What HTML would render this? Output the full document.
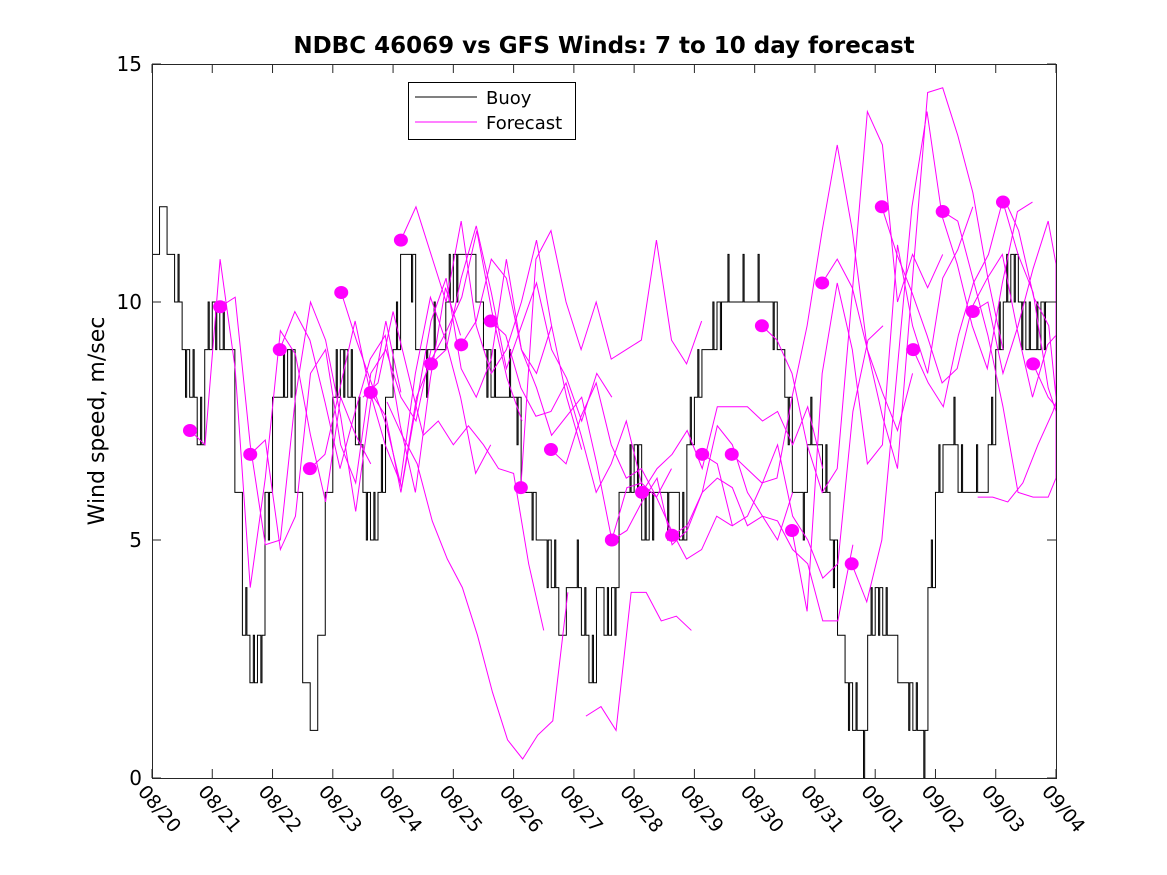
<!DOCTYPE html>
<html><head><meta charset="utf-8">
<style>
html,body{margin:0;padding:0;background:#fff;}
svg{display:block;font-family:"Liberation Sans","DejaVu Sans",sans-serif;}
</style></head>
<body>
<svg id="chart" width="1167" height="875" viewBox="0 0 1167 875" xmlns="http://www.w3.org/2000/svg">
<rect x="0" y="0" width="1167" height="875" fill="#fff"/>
<text x="604" y="53" text-anchor="middle" font-size="23" font-weight="bold" font-family="DejaVu Sans, sans-serif">NDBC 46069 vs GFS Winds: 7 to 10 day forecast</text>
<text transform="translate(104,421) rotate(-90)" text-anchor="middle" font-size="22" font-family="DejaVu Sans, sans-serif">Wind speed, m/sec</text>
<g id="plot"></g>
<g id="axes"></g>
<g>
<rect x="408.5" y="82.5" width="167" height="57" fill="#fff" stroke="#000" stroke-width="1"/>
<line x1="415" y1="97" x2="477" y2="97" stroke="#000" stroke-width="1"/>
<text x="486" y="104" font-size="18" font-family="DejaVu Sans, sans-serif">Buoy</text>
<line x1="415" y1="122" x2="477" y2="122" stroke="#ff00ff" stroke-width="1"/>
<text x="486" y="129" font-size="18" font-family="DejaVu Sans, sans-serif">Forecast</text>
</g>
</svg>
<script>
// ---- data ----
const xTickLabels = ["08/20","08/21","08/22","08/23","08/24","08/25","08/26","08/27","08/28","08/29","08/30","08/31","09/01","09/02","09/03","09/04"];
const yTicks = [0,5,10,15];
// buoy wind, 3-hour samples from 08/20 00:00
const buoy = [
11,12,11,10,9,8,7,9,
10,9,9,6,3,2,3,6,
8,8,9,6,2,1,3,6,
8,9,8,7,6,5,6,8,
9,11,11,9,9,9,9,10,
11,11,11,10,9,8,8,8,
8,6,6,5,5,4,3,4,
4,3,2,4,3,4,6,6,
7,5,6,6,6,6,5,7,
8,9,9,10,10,10,10,10,
10,10,10,9,8,6,6,7,
7,6,5,3,2,1,1,3,
4,3,3,2,2,1,1,4,
6,7,7,6,6,6,6,7,
9,10,11,10,9,9,10,10,10];
// buoy flicker: brief secondary level within each 3-hour sample (same = none)
const buoyFlicker = [
11,12,11,11,8,9,8,10,
9,10,9,6,4,3,2,5,
8,9,8,6,2,1,3,6,
9,8,9,8,5,6,7,8,
10,11,10,9,8,10,9,11,
10,11,11,10,8,9,8,9,
7,6,5,5,4,5,3,4,
5,4,3,4,4,3,6,7,
6,6,5,6,5,6,6,8,
9,9,10,9,11,10,11,10,
11,10,9,9,7,6,5,8,
7,7,4,3,1,2,0,4,
3,4,3,2,1,2,0,5,
7,7,8,7,6,7,6,8,
10,11,10,9,10,10,9,10,9];
// forecast dots (day offset, speed)
const dotDays = [0.63,1.13,1.63,2.12,2.62,3.14,3.63,4.13,4.63,5.13,5.62,6.12,6.62,7.63,8.13,8.63,9.13,9.62,10.12,10.62,11.12,11.61,12.11,12.63,13.12,13.62,14.12,14.62];
const dotVals = [7.3,9.9,6.8,9.0,6.5,10.2,8.1,11.3,8.7,9.1,9.6,6.1,6.9,5.0,6.0,5.1,6.8,6.8,9.5,5.2,10.4,4.5,12.0,9.0,11.9,9.8,12.1,8.7];
// forecast segments: start day, 6-hourly values
const segStarts = [0.63,1.13,1.63,2.12,2.62,3.14,3.63,4.13,4.63,5.13,5.62,6.12,6.62,7.63,8.13,8.63,9.13,9.62,10.12,10.62,11.12,11.61,12.11,12.63,13.12,13.62,14.12,14.62,3.9,3.5,13.7,7.2];
const segVals = [
[7.3,7.0,10.9,8.6,4.0,6.3,9.4,8.9,7.2,5.8,8.0,7.2,6.6],
[9.9,10.1,7.0,4.9,5.0,8.0,10.0,9.2,7.6,5.6,7.9,9.6,8.1],
[6.8,7.1,4.8,5.5,8.5,9.0,7.0,6.2,8.5,9.0,8.0,7.5,9.0],
[9.0,9.8,9.2,7.9,6.5,7.7,8.8,9.3,7.4,6.0,8.4,10.3,9.3],
[6.5,6.8,8.2,9.6,8.1,7.0,6.2,8.5,10.1,9.2,8.0,6.4,7.0],
[10.2,9.2,8.3,7.4,6.1,8.0,8.8,9.4,10.1,11.5,9.8,8.4,7.5],
[8.1,7.6,6.0,7.8,9.6,10.5,8.6,8.0,8.8,10.9,9.0,8.5,9.5],
[11.3,12.0,11.0,10.0,11.7,9.5,8.5,9.0,10.0,11.3,9.5,8.0,6.9],
[8.7,9.0,10.5,11.6,10.2,8.6,9.5,10.4,9.0,8.4,7.5,8.5,8.0],
[9.1,9.6,10.9,10.5,9.0,8.2,7.2,7.6,8.0,6.6,5.0,6.1,6.2],
[9.6,9.3,8.2,7.6,7.7,8.3,7.2,6.0,6.6,7.5,6.2,5.9,6.5],
[6.1,10.9,11.5,10.0,9.0,10.0,8.8,9.0,9.2,11.3,9.2,8.7,9.6],
[6.9,6.6,7.6,8.3,7.0,6.3,6.5,5.9,5.2,4.6,4.8,5.5,5.3],
[5.0,5.2,5.8,6.3,4.9,5.2,6.0,6.3,6.1,5.3,5.5,5.0,6.0],
[6.0,6.5,6.8,7.3,6.5,7.8,7.8,7.8,7.5,7.7,7.0,7.8,6.5],
[5.1,5.3,6.0,7.4,7.0,6.0,5.5,5.4,4.8,4.5,3.3,3.3,4.9],
[6.8,6.6,5.3,5.5,6.2,7.0,5.5,5.0,4.2,4.5,7.7,9.2,9.5],
[6.8,6.5,6.2,6.3,8.0,9.5,11.5,13.3,11.5,9.0,8.1,7.3,8.5],
[9.5,9.2,8.5,7.0,6.0,6.5,10.2,14.0,13.3,10.0,11.0,10.3,11.0],
[5.2,3.5,8.5,10.4,9.0,6.6,7.0,11.2,9.5,8.5,10.5,11.1,12.0],
[10.4,10.9,10.3,9.0,7.6,6.5,10.5,14.4,14.5,13.5,12.3,10.5,9.0],
[4.5,3.7,5.0,8.5,12.0,14.0,11.8,10.8,9.5,8.6,10.4,11.9,12.1],
[12.0,11.0,10.2,9.3,8.3,8.6,9.9,10.5,11.0,9.4,8.0,9.1,9.3],
[9.0,8.3,7.8,9.3,10.4,11.0,12.2,11.5,10.1,9.5,8.0,8.4,9.1],
[11.9,11.7,10.5,9.3,7.8,6.0,5.9,5.9,6.3,7.2,8.0,9.5,10.1],
[9.8,10.0,8.5,9.5,10.7,11.7,10.8,8.0,9.7,10.0],
[12.1,11.0,10.2,8.2,7.7,6.9,8.5,9.5,10.6],
[8.7,8.0,7.8,8.6,9.0],
[7.9,7.2,6.6,5.4,4.6,4.0,3.0,1.8,0.8,0.4,0.9,1.2,3.9],
[8.0,8.3,9.8,8.5,7.2,7.5,7.0,7.4,7.0,6.5,6.4,4.5,3.1],
[5.9,5.9,5.8,6.2,7.0,7.7,7.9,8.8],
[1.3,1.5,1.0,3.9,3.9,3.3,3.4,3.1]
];
// ---- scales ----
const X0=152, X1=1056, Y0=778, Y1=64, DAYS=15, YMAX=15;
const xs = d => X0 + d*(X1-X0)/DAYS;
const ys = v => Y0 - v*(Y0-Y1)/YMAX;
const NS="http://www.w3.org/2000/svg";
const plot=document.getElementById('plot');
const axes=document.getElementById('axes');
function mk(tag, attrs, parent){const e=document.createElementNS(NS,tag);for(const k in attrs)e.setAttribute(k,attrs[k]);parent.appendChild(e);return e;}

// buoy step line with one brief flicker per sample
let bp="";
buoy.forEach((v,i)=>{
  const x0=xs(i/8), x1=xs(Math.min((i+1)/8,DAYS));
  const f = buoyFlicker[i];
  bp += (i===0?`M${x0},${ys(v)}`:`L${x0},${ys(v)}`);
  if (f!==undefined && f!==v){
    const w=(x1-x0);
    bp += `L${x0+w*0.45},${ys(v)}L${x0+w*0.45},${ys(f)}L${x0+w*0.6},${ys(f)}L${x0+w*0.6},${ys(v)}`;
  }
  bp += `L${x1},${ys(v)}`;
});
const buoyLine=mk('path',{d:bp,fill:'none',stroke:'#000','stroke-width':1},plot);



// forecast segments
segVals.forEach((vals,s)=>{
  const pts = vals.map((v,i)=>`${xs(Math.min(segStarts[s]+i*0.25,DAYS))},${ys(v)}`).join(' ');
  const pl=mk('polyline',{points:pts,fill:'none',stroke:'#ff00ff','stroke-width':1},plot);
  
  
});
// dots
dotDays.forEach((d,i)=>{
  const c=mk('ellipse',{cx:xs(d),cy:ys(dotVals[i]),rx:7,ry:6.5,fill:'#ff00ff'},plot);
  
  
});

// axes box
const box=mk('rect',{x:X0+0.5,y:Y1+0.5,width:X1-X0,height:Y0-Y1,fill:'none',stroke:'#262626','stroke-width':1},axes);


// y ticks
yTicks.forEach(v=>{
  const y=ys(v);
  mk('line',{x1:X0,y1:y,x2:X0+9,y2:y,stroke:'#262626'},axes);
  mk('line',{x1:X1-9,y1:y,x2:X1,y2:y,stroke:'#262626'},axes);
  const t=mk('text',{x:X0-10,y:y+7,'text-anchor':'end','font-size':20,'font-family':'DejaVu Sans, sans-serif'},axes);
  t.textContent=v;
  
  
});
// x ticks
xTickLabels.forEach((lab,i)=>{
  const x=xs(i);
  mk('line',{x1:x,y1:Y0,x2:x,y2:Y0-9,stroke:'#262626'},axes);
  mk('line',{x1:x,y1:Y1,x2:x,y2:Y1+9,stroke:'#262626'},axes);
  const t=mk('text',{transform:`translate(${x-15},${Y0+14}) rotate(50)`,'font-size':19,'font-family':'DejaVu Sans, sans-serif'},axes);
  t.textContent=lab;
  
  
});
</script>
</body></html>
